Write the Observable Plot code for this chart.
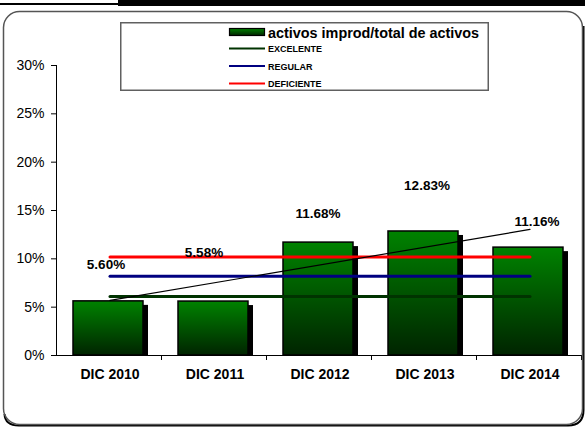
<!DOCTYPE html>
<html>
<head>
<meta charset="utf-8">
<script src="https://cdn.jsdelivr.net/npm/d3@7"></script>
<script src="https://cdn.jsdelivr.net/npm/@observablehq/plot@0.6"></script>
<style>
  html, body { margin: 0; padding: 0; background: #fff; }
  #wrap { position: relative; width: 585px; height: 428px; overflow: hidden; font-family: Arial, "Liberation Sans", sans-serif; }
  #frame { position: absolute; left: 0; top: 0; pointer-events: none; }
  #chart { position: absolute; left: 0; top: 0; }
  #chart svg { background: transparent !important; }
  #legend { position: absolute; left: 120px; top: 22px; }
</style>
</head>
<body>
<div id="wrap">
  <div id="chart"></div>
  <svg id="frame" width="585" height="428"></svg>
  <div id="legend"></div>
</div>
<script>
// ---- data ----
const categories = ["DIC 2010", "DIC 2011", "DIC 2012", "DIC 2013", "DIC 2014"];
const ratios = [5.60, 5.58, 11.68, 12.83, 11.16];
const seriesName = "activos improd/total de activos";
const thresholdNames = ["EXCELENTE", "REGULAR", "DEFICIENTE"];
const thresholdValues = [6.1, 8.2, 10.2];
const yTicks = [0, 5, 10, 15, 20, 25, 30];

// ---- styles ----
const thresholdColors = ["#003300", "#000080", "#ff0000"];
const labelNudges = [[-4, -37], [-11, -49], [-2, -29], [2, -46], [7, -26]];
const font = "Arial, 'Liberation Sans', sans-serif";

const rows = categories.map((c, i) => ({cat: c, v: ratios[i]}));
const thresholdRows = thresholdNames.flatMap((name, j) =>
  categories.map(c => ({cat: c, v: thresholdValues[j], name})));

// linear trend of the series
const n = ratios.length;
const xs = d3.range(n);
const mx = d3.mean(xs), my = d3.mean(ratios);
const slope = d3.sum(xs, (x, i) => (x - mx) * (ratios[i] - my)) / d3.sum(xs, x => (x - mx) ** 2);
const intercept = my - slope * mx;
const trendRows = [
  {cat: categories[0], v: intercept},
  {cat: categories[n - 1], v: intercept + slope * (n - 1)}
];

function addGradient(sel, id) {
  const g = sel.append("linearGradient").attr("id", id)
    .attr("x1", 0).attr("y1", 0).attr("x2", 0).attr("y2", 1);
  g.append("stop").attr("offset", "0%").attr("stop-color", "#008200");
  g.append("stop").attr("offset", "100%").attr("stop-color", "#002400");
}

function decor(index, scales, values, dimensions) {
  const x = scales.x;
  const g = d3.create("svg:g");
  addGradient(g.append("defs"), "barGrad");
  const step = x(categories[1]) - x(categories[0]);
  const y0 = dimensions.height - dimensions.marginBottom;
  g.append("line")
    .attr("x1", dimensions.marginLeft + 0.5).attr("x2", dimensions.marginLeft + 0.5)
    .attr("y1", dimensions.marginTop).attr("y2", y0)
    .attr("stroke", "#000");
  categories.forEach(c => {
    const xx = Math.round(x(c) + step) - 0.5;
    g.append("line").attr("x1", xx).attr("x2", xx)
      .attr("y1", y0).attr("y2", y0 + 5).attr("stroke", "#000");
  });
  return g.node();
}

const chart = Plot.plot({
  width: 585,
  height: 428,
  marginLeft: 56,
  marginRight: 2,
  marginTop: 65,
  marginBottom: 73,
  x: {domain: categories, padding: 0, axis: null, label: null},
  y: {domain: [0, 30], axis: null, label: null},
  color: {domain: thresholdNames, range: thresholdColors},
  style: {fontFamily: font, background: "transparent", color: "#000", overflow: "visible"},
  marks: [
    Plot.axisY(yTicks, {tickSize: 5, tickPadding: 7, tickFormat: d => d + "%", fontSize: 14, label: null}),
    Plot.axisX({tickSize: 0, tickPadding: 14, fontSize: 14, fontWeight: "bold", label: null}),
    Plot.barY(rows, {x: "cat", y: "v", fill: "#000", dx: 5, dy: 4, insetLeft: 16, insetRight: 19, insetBottom: 4}),
    Plot.barY(rows, {x: "cat", y: "v", fill: "url(#barGrad)", stroke: "#000", strokeWidth: 1.5, insetLeft: 16, insetRight: 19}),
    Plot.line(thresholdRows, {x: "cat", y: "v", z: "name", stroke: "name", strokeWidth: 3}),
    Plot.line(trendRows, {x: "cat", y: "v", stroke: "#000", strokeWidth: 1.2}),
    Plot.ruleY([0], {stroke: "#000"}),
    decor,
    ...rows.map((r, i) => Plot.text([r], {
      x: "cat", y: "v", text: d => d.v.toFixed(2) + "%",
      dx: labelNudges[i][0], dy: labelNudges[i][1],
      fontSize: 13.5, fontWeight: "bold", fill: "#000"
    }))
  ]
});
document.getElementById("chart").appendChild(chart);

// ---- frame and header bars ----
const F = d3.select("#frame");
F.append("rect").attr("x", 0).attr("y", 3).attr("width", 118).attr("height", 2).attr("fill", "#000");
F.append("rect").attr("x", 118).attr("y", 0).attr("width", 467).attr("height", 6).attr("fill", "#000");
// shadow on bottom/right
F.append("path")
  .attr("d", "M583.5,26 L583.5,410 Q583.5,425.5 568,425.5 L19,425.5 Q5,425.5 4.5,414")
  .attr("fill", "none").attr("stroke", "#000").attr("stroke-width", 2);
F.append("rect").attr("x", 3.5).attr("y", 11.5).attr("width", 579).attr("height", 413)
  .attr("rx", 16).attr("ry", 16).attr("fill", "none").attr("stroke", "#555").attr("stroke-width", 1.5);

// ---- legend ----
const L = d3.select("#legend").append("svg").attr("width", 370).attr("height", 70)
  .style("font-family", font);
addGradient(L.append("defs"), "legGrad");
L.append("rect").attr("x", 0.75).attr("y", 0.75).attr("width", 367.5).attr("height", 67.5)
  .attr("fill", "#fff").attr("stroke", "#606060").attr("stroke-width", 1.5);
L.append("rect").attr("x", 109.5).attr("y", 6.5).attr("width", 35).attr("height", 7)
  .attr("fill", "url(#legGrad)").attr("stroke", "#000").attr("stroke-width", 1.2);
L.append("text").attr("x", 148).attr("y", 15.5).attr("font-size", 14.4).attr("font-weight", "bold")
  .text(seriesName);
const itemY = [26.5, 44, 61.5];
thresholdNames.forEach((name, j) => {
  L.append("line").attr("x1", 109).attr("x2", 145).attr("y1", itemY[j]).attr("y2", itemY[j])
    .attr("stroke", thresholdColors[j]).attr("stroke-width", 2);
  L.append("text").attr("x", 148).attr("y", itemY[j] + 3.5).attr("font-size", 9)
    .attr("font-weight", "bold").text(name);
});
</script>
</body>
</html>
